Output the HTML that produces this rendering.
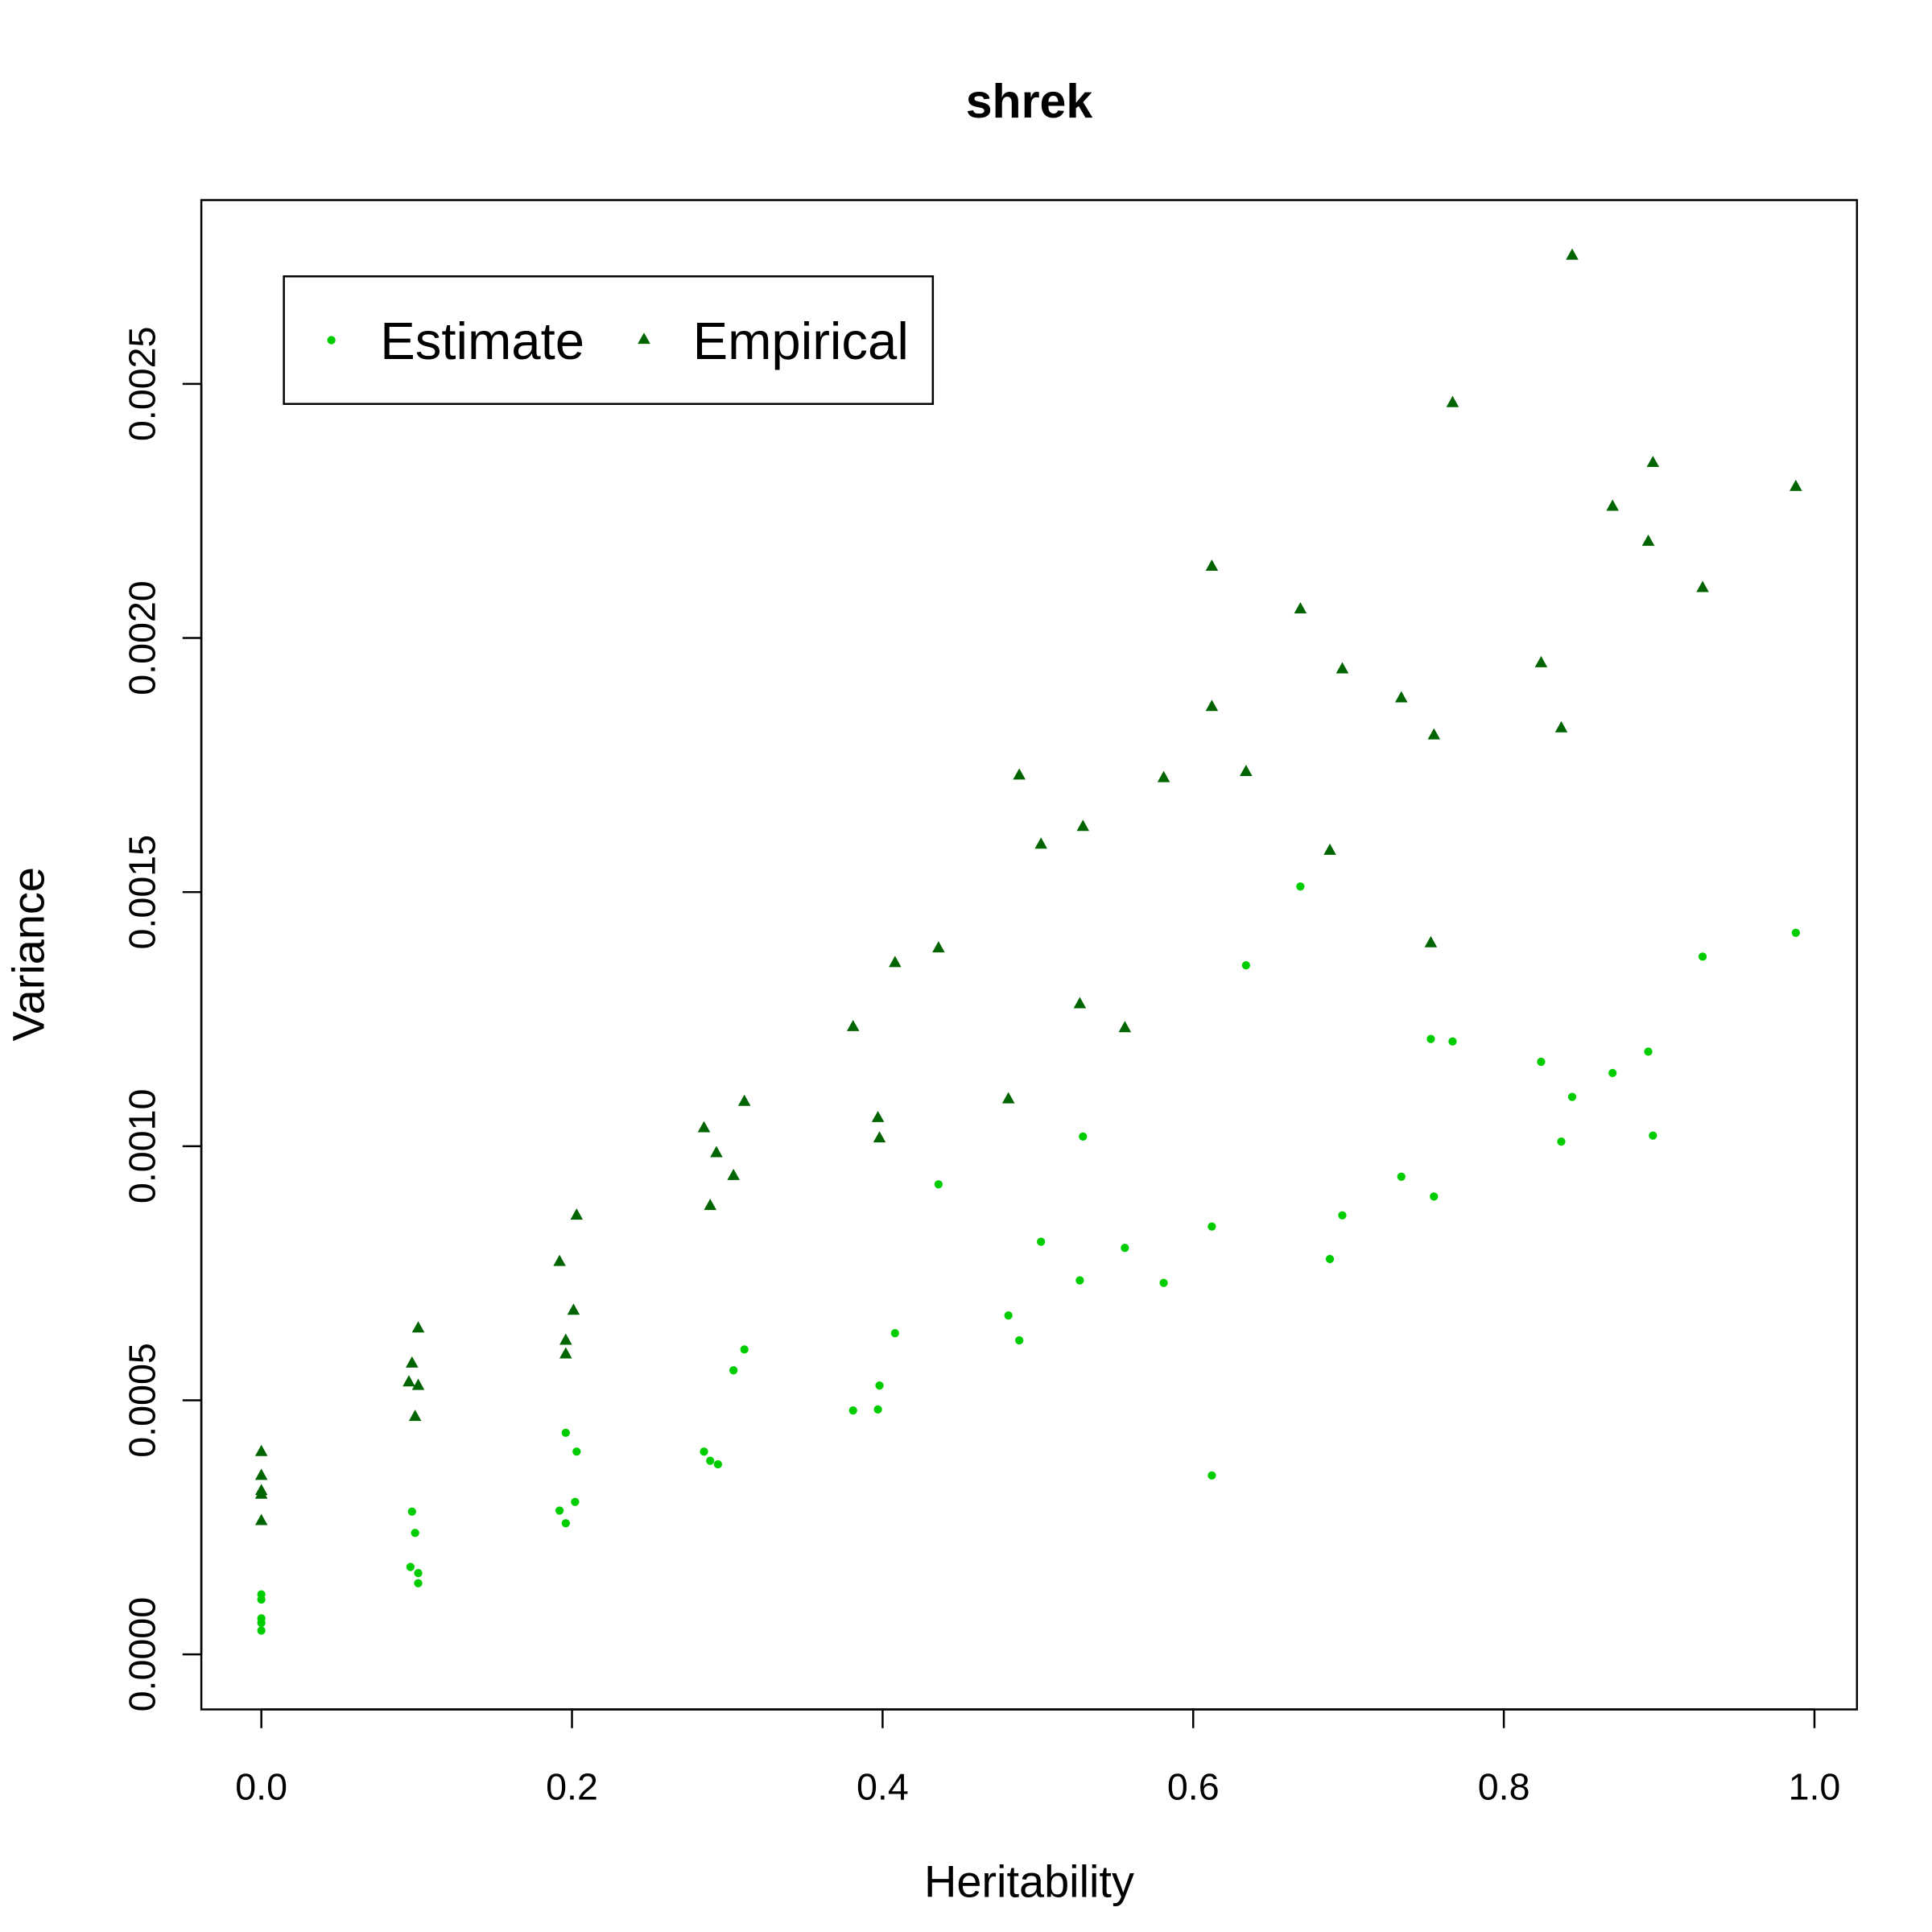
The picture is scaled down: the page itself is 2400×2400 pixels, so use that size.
<!DOCTYPE html>
<html><head><meta charset="utf-8"><style>
html,body{margin:0;padding:0;background:#fff}
svg{display:block}
text{font-family:"Liberation Sans",Arial,sans-serif;fill:#000}
</style></head><body>
<svg id="chart" width="2400" height="2400" viewBox="0 0 1545 1545" xmlns="http://www.w3.org/2000/svg">
<rect width="1545" height="1545" fill="#fff"/>
<text x="823" y="94" text-anchor="middle" font-size="38" font-weight="bold">shrek</text>
<rect x="161" y="160" width="1324" height="1207" fill="none" stroke="#000" stroke-width="1.6"/>
<g id="xaxis"></g>
<g id="yaxis"></g>
<text x="823" y="1517" text-anchor="middle" font-size="36">Heritability</text>
<text transform="translate(35,763) rotate(-90)" text-anchor="middle" font-size="36">Variance</text>
<g id="marks"></g>
<g>
<rect x="227" y="221" width="519" height="102" fill="#fff" stroke="#000" stroke-width="1.6"/>
<circle cx="265" cy="272" r="3.3" fill="#00cd00"/>
<text x="304" y="287" font-size="42">Estimate</text>
<polygon points="515,266 510,275 520,275" fill="#006400"/>
<text x="554" y="287" font-size="42">Empirical</text>
</g>
</svg>
<script>
const heritability=[0,0,0,0,0,0.097,0.095,0.101,0.099,0.101,0.192,0.203,0.201,0.196,0.196,0.285,0.293,0.311,0.304,0.289,0.381,0.408,0.436,0.397,0.398,0.481,0.488,0.502,0.529,0.527,0.556,0.581,0.612,0.612,0.634,0.669,0.688,0.696,0.734,0.753,0.755,0.767,0.824,0.837,0.844,0.870,0.893,0.896,0.928,0.988];
const empirical=[0.399,0.352,0.322,0.315,0.263,0.573,0.536,0.529,0.468,0.642,0.773,0.864,0.677,0.618,0.591,1.036,0.987,1.088,0.942,0.883,1.235,1.361,1.390,1.056,1.016,1.093,1.730,1.594,1.629,1.280,1.233,1.725,2.141,1.865,1.737,2.057,1.582,1.939,1.882,1.400,1.809,2.463,1.951,1.823,2.753,2.259,2.190,2.345,2.099,2.298];
const estimateX=[0,0,0,0,0,0.097,0.099,0.096,0.101,0.101,0.192,0.196,0.203,0.202,0.196,0.285,0.289,0.294,0.304,0.311,0.381,0.397,0.398,0.408,0.436,0.481,0.488,0.502,0.527,0.529,0.556,0.581,0.612,0.612,0.634,0.669,0.688,0.696,0.734,0.753,0.755,0.767,0.824,0.837,0.844,0.870,0.893,0.896,0.928,0.988];
const estimate=[0.118,0.108,0.071,0.062,0.047,0.281,0.239,0.172,0.160,0.140,0.283,0.436,0.399,0.300,0.258,0.399,0.381,0.374,0.559,0.600,0.480,0.482,0.529,0.632,0.925,0.667,0.618,0.812,0.736,1.019,0.800,0.731,0.352,0.842,1.356,1.511,0.778,0.864,0.940,1.211,0.901,1.206,1.166,1.009,1.097,1.144,1.186,1.021,1.373,1.420];
const xTicks=[0,0.2,0.4,0.6,0.8,1.0];
const xTickLabels=["0.0","0.2","0.4","0.6","0.8","1.0"];
const yTicks=[0,0.5,1.0,1.5,2.0,2.5];
const yTickLabels=["0.0000","0.0005","0.0010","0.0015","0.0020","0.0025"];
const NS="http://www.w3.org/2000/svg";
const xs=v=>209+v*1242;
const ys=v=>1323-v*406.4;
function mk(tag,attrs,parent){const e=document.createElementNS(NS,tag);for(const k in attrs)e.setAttribute(k,attrs[k]);parent.appendChild(e);return e;}
const xa=document.getElementById('xaxis'),ya=document.getElementById('yaxis'),marks=document.getElementById('marks');
mk('line',{x1:xs(0),x2:xs(1),y1:1367,y2:1367,stroke:'#000','stroke-width':1.6},xa);
xTicks.forEach((t,i)=>{
 const l=mk('line',{x1:xs(t),x2:xs(t),y1:1367,y2:1382,stroke:'#000','stroke-width':1.6},xa);
 
 
 const tx=mk('text',{x:xs(t),y:1439,'text-anchor':'middle','font-size':30},xa);
 tx.textContent=xTickLabels[i];
 
 
});
mk('line',{x1:161,x2:161,y1:ys(0),y2:ys(2.5),stroke:'#000','stroke-width':1.6},ya);
yTicks.forEach((t,i)=>{
 const l=mk('line',{x1:146,x2:161,y1:ys(t),y2:ys(t),stroke:'#000','stroke-width':1.6},ya);
 
 
 const tx=mk('text',{transform:`translate(124,${ys(t)}) rotate(-90)`,'text-anchor':'middle','font-size':30},ya);
 tx.textContent=yTickLabels[i];
 
 
});
empirical.forEach((v,i)=>{
 const x=xs(heritability[i]),y=ys(v);
 const p=mk('polygon',{points:`${x},${y-5.5} ${x-5},${y+3.5} ${x+5},${y+3.5}`,fill:'#006400'},marks);
 
 
});
estimate.forEach((v,i)=>{
 const c=mk('circle',{cx:xs(estimateX[i]),cy:ys(v),r:3.3,fill:'#00cd00'},marks);
 
 
});
</script>
</body></html>
